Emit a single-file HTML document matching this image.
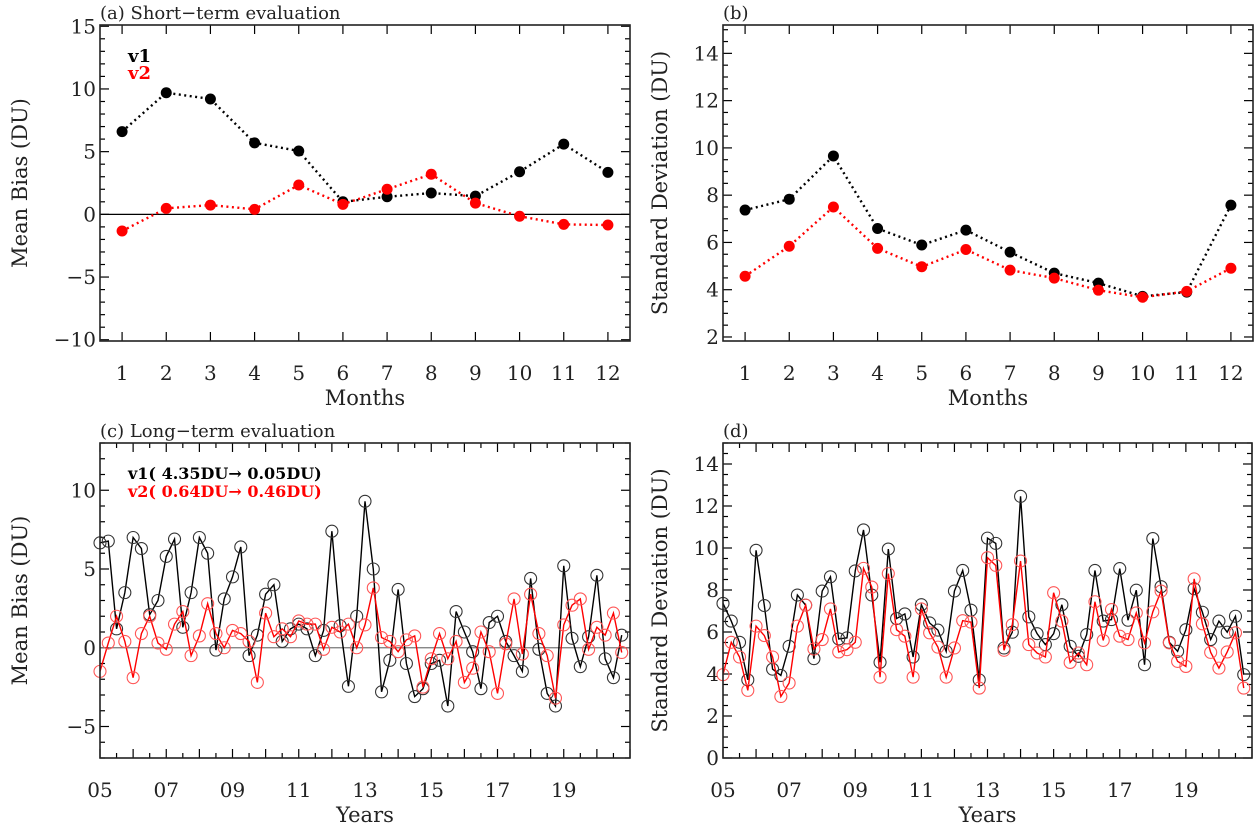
<!DOCTYPE html>
<html><head><meta charset="utf-8"><style>
html,body{margin:0;padding:0;background:#fff;}
svg{display:block;font-family:"DejaVu Serif","Liberation Serif",serif;}
</style></head><body>
<svg id="fig" width="1254" height="824" viewBox="0 0 1254 824" xmlns="http://www.w3.org/2000/svg"></svg>
<script>
const months=[1,2,3,4,5,6,7,8,9,10,11,12];
const biasV1=[6.6,9.7,9.2,5.7,5.05,1.0,1.4,1.7,1.45,3.4,5.6,3.35];
const biasV2=[-1.33,0.48,0.74,0.4,2.34,0.8,2.0,3.2,0.9,-0.15,-0.8,-0.85];
const sdV1=[7.37,7.83,9.66,6.59,5.89,6.52,5.59,4.7,4.28,3.72,3.9,7.58];
const sdV2=[4.57,5.84,7.5,5.75,4.97,5.7,4.83,4.49,3.98,3.68,3.93,4.91];
const longBiasV1=[6.66,6.77,1.2,3.5,7.0,6.3,2.1,3.0,5.8,6.9,1.3,3.5,7.0,6.0,-0.15,3.1,4.5,6.4,-0.5,0.8,3.4,4.0,0.4,1.2,1.5,1.2,-0.5,1.1,7.4,1.4,-2.45,2.0,9.3,5.0,-2.8,-0.8,3.7,-1.0,-3.1,-2.6,-1.0,-0.8,-3.7,2.3,1.0,-0.25,-2.6,1.6,2.0,0.4,-0.5,-1.5,4.4,-0.1,-2.9,-3.7,5.2,0.6,-1.2,0.7,4.6,-0.7,-1.9,0.8];
const longBiasV2=[-1.5,0.3,2.0,0.4,-1.9,0.9,2.0,0.3,-0.1,1.5,2.3,-0.5,0.75,2.8,0.9,0.0,1.1,0.9,0.4,-2.2,2.2,0.7,1.2,0.7,1.7,1.5,1.5,-0.1,1.3,1.0,1.5,0.0,1.45,3.8,0.65,0.4,-0.25,0.5,0.75,-2.5,-0.7,0.9,-0.7,0.4,-2.2,-1.3,1.0,-0.25,-2.9,0.25,3.1,-0.4,3.4,0.9,-0.5,-3.2,1.45,2.7,3.1,-0.1,1.3,0.8,2.2,-0.3];
const longSdV1=[7.36,6.52,5.51,3.72,9.89,7.26,4.23,3.93,5.32,7.76,7.28,4.73,7.95,8.63,5.67,5.72,8.91,10.86,7.76,4.56,9.95,6.64,6.86,4.81,7.3,6.43,6.09,5.08,7.95,8.93,7.04,3.72,10.47,10.22,5.24,5.99,12.46,6.72,5.92,5.4,5.92,7.3,5.32,4.84,5.88,8.93,6.52,6.59,9.02,6.56,7.99,4.44,10.45,8.16,5.51,5.08,6.11,8.06,6.94,5.64,6.52,5.99,6.75,3.97];
const longSdV2=[3.97,5.51,4.81,3.22,6.28,5.83,4.81,2.93,3.57,6.28,7.28,5.19,5.64,7.1,5.05,5.16,5.51,9.03,8.14,3.85,8.78,6.11,5.8,3.85,7.1,5.96,5.28,3.85,5.24,6.54,6.47,3.33,9.54,9.17,5.13,6.35,9.38,5.4,5.0,4.81,7.87,6.52,4.55,5.0,4.44,7.44,5.6,7.07,5.8,5.64,6.91,5.48,6.96,7.95,5.48,4.6,4.36,8.53,6.39,5.03,4.28,5.05,5.96,3.33];
const yearLabels=["05","07","09","11","13","15","17","19"];

const NS="http://www.w3.org/2000/svg";
const svg=document.getElementById('fig');
function mk(tag,attrs,parent){const e=document.createElementNS(NS,tag);for(const k in attrs)e.setAttribute(k,attrs[k]);(parent||svg).appendChild(e);return e;}
function txt(s,x,y,size,attrs,parent){const e=mk('text',Object.assign({x:x,y:y,'font-size':size},attrs||{}),parent);e.textContent=s;return e;}

function panel(o){
  const g=mk('g',{});
  
  
  const X=v=>o.x0+(v-o.xmin)/(o.xmax-o.xmin)*(o.x1-o.x0);
  const Y=v=>o.y1-(v-o.ymin)/(o.ymax-o.ymin)*(o.y1-o.y0);
  const ty=mk('g',{stroke:'#000','stroke-width':1.2},g);
  
  
  for(let v=Math.ceil(o.ymin/o.yminor)*o.yminor;v<=o.ymax+1e-6;v+=o.yminor){
    const isMaj=Math.abs(v/o.ymajor-Math.round(v/o.ymajor))<1e-6;const L=isMaj?9:5;
    mk('line',{x1:o.x0,x2:o.x0+L,y1:Y(v),y2:Y(v)},ty);
    mk('line',{x1:o.x1,x2:o.x1-L,y1:Y(v),y2:Y(v)},ty);
    if(isMaj){const t=txt(String(Math.round(v)).replace('-','\u2212'),o.x0-4,Y(v)+7,20,{'text-anchor':'end',stroke:'none',fill:'#222'},g);
      }
  }
  const tx=mk('g',{stroke:'#000','stroke-width':1.2},g);
  
  
  o.xticks.forEach(t=>{
    mk('line',{x1:X(t.v),x2:X(t.v),y1:o.y1,y2:o.y1-t.L},tx);
    mk('line',{x1:X(t.v),x2:X(t.v),y1:o.y0,y2:o.y0+t.L},tx);
    if(t.label){const e=txt(t.label,X(t.v),o.y1+39,20,{'text-anchor':'middle',stroke:'none',fill:'#222'},g);
      }
  });
  if(o.zero){const z=mk('line',{x1:o.x0,x2:o.x1,y1:Y(0),y2:Y(0),stroke:o.zeroColor,'stroke-width':1.3},g);
    }
  o.series.forEach(s=>{
    const sg=mk('g',{},g);
    
    
    const pts=s.vals.map((v,i)=>X(s.xs[i])+','+Y(v)).join(' ');
    mk('polyline',{points:pts,fill:'none',stroke:s.color,'stroke-width':s.dotted?2.4:1.4,'stroke-dasharray':s.dotted?'2,3.5':'none'},sg);
    s.vals.forEach((v,i)=>{
      const c=mk('circle',{cx:X(s.xs[i]),cy:Y(v),r:s.dotted?5.5:6,fill:s.dotted?s.color:'none',stroke:s.mcolor,'stroke-width':s.dotted?0:1.1},sg);
      
      
    });
  });
  const fr=mk('rect',{x:o.x0,y:o.y0,width:o.x1-o.x0,height:o.y1-o.y0,fill:'none',stroke:'#222','stroke-width':1.6},g);
  
  const t=txt(o.title,o.x0,o.y0-6,18,{fill:'#222'},g);
  
  const xt=txt(o.xtitle,(o.x0+o.x1)/2,o.y1+64,21,{'text-anchor':'middle',fill:'#222'},g);
  
  const cy=(o.y0+o.y1)/2;
  const yt=txt(o.ytitle,0,0,21,{'text-anchor':'middle',fill:'#222',transform:`translate(${o.x0-o.ytOff},${cy}) rotate(-90)`},g);
  
  return {X,Y,g};
}
const mticks=months.map(m=>({v:m,L:9,label:String(m)}));
const yticks=[];for(let y=2005;y<=2021.001;y+=0.5){const yr=Math.abs(y-Math.round(y))<1e-6;const lab=(yr&&(Math.round(y)-2005)%2===0&&Math.round(y)<2021)?yearLabels[(Math.round(y)-2005)/2]:null;yticks.push({v:y,L:yr?9:5,label:lab});}
const qx=longBiasV1.map((_,i)=>2005+i*0.25);

const pa=panel({name:'panel-a-short-term-bias',x0:100,x1:630,y0:25,y1:341,xmin:0.5,xmax:12.5,ymin:-10.1,ymax:15.1,ymajor:5,yminor:1,xticks:mticks,zero:true,zeroColor:'#000',ytOff:73,
 title:'(a) Short\u2212term evaluation',xtitle:'Months',ytitle:'Mean Bias (DU)',
 series:[{name:'series-v1',xs:months,vals:biasV1,color:'#000',mcolor:'#000',dotted:true},{name:'series-v2',xs:months,vals:biasV2,color:'#f00',mcolor:'#f00',dotted:true}]});
let l=txt('v1',128,62,18,{'font-weight':'bold',fill:'#000'},pa.g);
l=txt('v2',128,79,18,{'font-weight':'bold',fill:'#f00'},pa.g);

panel({name:'panel-b-short-term-sd',x0:723,x1:1253,y0:25,y1:341,xmin:0.5,xmax:12.5,ymin:1.83,ymax:15.2,ymajor:2,yminor:0.5,xticks:mticks,zero:false,ytOff:56,
 title:'(b)',xtitle:'Months',ytitle:'Standard Deviation (DU)',
 series:[{name:'series-v1',xs:months,vals:sdV1,color:'#000',mcolor:'#000',dotted:true},{name:'series-v2',xs:months,vals:sdV2,color:'#f00',mcolor:'#f00',dotted:true}]});

const pc=panel({name:'panel-c-long-term-bias',x0:100,x1:630,y0:443,y1:758,xmin:2005,xmax:2021,ymin:-7,ymax:13,ymajor:5,yminor:1,xticks:yticks,zero:true,zeroColor:'#777',ytOff:73,
 title:'(c) Long\u2212term evaluation',xtitle:'Years',ytitle:'Mean Bias (DU)',
 series:[{name:'series-v1',xs:qx,vals:longBiasV1,color:'#000',mcolor:'#333',dotted:false},{name:'series-v2',xs:qx,vals:longBiasV2,color:'#f00',mcolor:'#f55',dotted:false}]});
l=txt('v1( 4.35DU\u2192 0.05DU)',128,479,16,{'font-weight':'bold',fill:'#000'},pc.g);
l=txt('v2( 0.64DU\u2192 0.46DU)',128,497,16,{'font-weight':'bold',fill:'#f00'},pc.g);

panel({name:'panel-d-long-term-sd',x0:723,x1:1252,y0:443,y1:758,xmin:2005,xmax:2021,ymin:0,ymax:15,ymajor:2,yminor:0.5,xticks:yticks,zero:false,ytOff:56,
 title:'(d)',xtitle:'Years',ytitle:'Standard Deviation (DU)',
 series:[{name:'series-v1',xs:qx,vals:longSdV1,color:'#000',mcolor:'#333',dotted:false},{name:'series-v2',xs:qx,vals:longSdV2,color:'#f00',mcolor:'#f55',dotted:false}]});
</script>
</body></html>
